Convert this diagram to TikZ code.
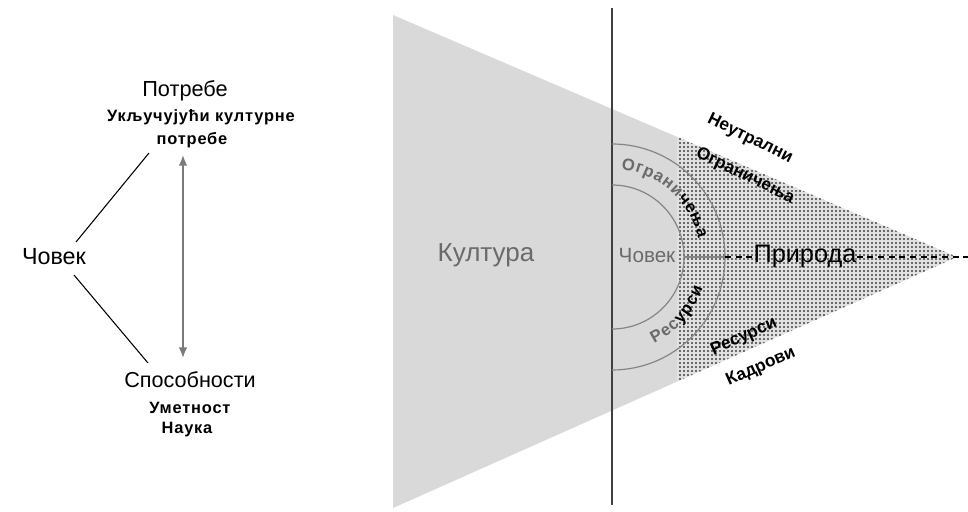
\documentclass[tikz,border=0pt]{standalone}
\usepackage{fontspec}
\setmainfont{Liberation Sans}
\usetikzlibrary{decorations.text,patterns,arrows.meta}
\definecolor{lightshade}{HTML}{D9D9D9}
\definecolor{darkbg}{HTML}{E2E2E2}
\definecolor{dotcol}{HTML}{404040}
\definecolor{txtgray}{HTML}{6A6A6A}
\definecolor{linegray}{HTML}{858585}
\definecolor{arrgray}{HTML}{7A7A7A}
\pgfdeclarepatternformonly{bigdots}{\pgfqpoint{-1.5pt}{-1.5pt}}{\pgfqpoint{1.5pt}{1.5pt}}{\pgfqpoint{3pt}{3pt}}{\pgfpathcircle{\pgfqpoint{0pt}{0pt}}{0.8pt}\pgfusepath{fill}}
\tikzset{
  fs/.style={font=\fontsize{#1}{#1}\selectfont},
  fsb/.style={font=\fontsize{#1}{#1}\selectfont\bfseries\addfontfeatures{LetterSpace=5}},
  edgelbl/.style={font=\fontsize{13}{13}\selectfont\bfseries, inner sep=1pt},
  lbl/.style={inner sep=0pt, anchor=base},
  axisline/.style={draw=black!75, line width=0.9pt},
  ring/.style={draw=linegray, line width=0.9pt},
  dashline/.style={draw=black, line width=0.8pt, dash pattern=on 4.5pt off 3.5pt},
  conn/.style={draw=black, line width=0.8pt},
  dbl/.style={draw=arrgray, line width=1.3pt, {Latex[length=8pt,width=6.5pt]}-{Latex[length=8pt,width=6.5pt]}},
}
\begin{document}
\begin{tikzpicture}[x=0.75pt,y=0.75pt]
\useasboundingbox (0,0) rectangle (968,511);
% wedge
\coordinate (TL) at (393,496);
\coordinate (BL) at (393,3);
\coordinate (AP) at (957,254);
\begin{scope}
\clip (0,0) rectangle (677,511);
\fill[lightshade] (TL) -- (AP) -- (BL) -- cycle;
\end{scope}
\begin{scope}
\clip (677,0) rectangle (968,511);
\fill[darkbg] (TL) -- (AP) -- (BL) -- cycle;
\fill[pattern=bigdots, pattern color=dotcol] (TL) -- (AP) -- (BL) -- cycle;
\end{scope}
% vertical axis
\coordinate (VT) at (612,503);
\coordinate (VB) at (612,6);
\draw[axisline] (VT) -- (VB);
% rings
\coordinate (C) at (612,254);
\draw[ring] ([shift={(C)}]90:54pt) arc[start angle=90, end angle=-90, radius=54pt];
\draw[ring] ([shift={(C)}]90:84.75pt) arc[start angle=90, end angle=-90, radius=84.75pt];
\coordinate (iE) at (684,254);
\coordinate (oE) at (725,254);
\coordinate (rE) at (968,254);
\draw[ring] (iE) -- (oE);
% texts right
\node[lbl, fs=19.5, text=txtgray] (kult) at (486,249) {Култура};
\node[lbl, fs=15.5, text=txtgray] (covi) at (647,248) {Човек};
\node[lbl, fs=19] (prir) at (805,248) {Природа};
\draw[dashline] (oE) -- (oE -| prir.west);
\draw[dashline] (rE -| prir.east) -- (rE);
% arc labels
\begin{scope}
\fontsize{12.5}{12.5}\selectfont\bfseries
\path[decorate, decoration={text along path, text align=fit to path,
  text={|\color{txtgray}|Ограни|\color{black}|чења}}]
  ([shift={(C)}]84:66pt) arc[start angle=84, end angle=12, radius=66pt];
\path[decorate, decoration={text along path, text align=fit to path,
  text={|\color{txtgray}|Рес|\color{black}|урси}}]
  ([shift={(C)}]-64:72pt) arc[start angle=-64, end angle=-19, radius=72pt];
\end{scope}
% edge labels
\node[edgelbl, rotate=-26] (neut) at (750,372) {Неутрални};
\node[edgelbl, rotate=-26] (ogr) at (745,335) {Ограничења};
\node[edgelbl, rotate=24] (res) at (744,174) {Ресурси};
\node[edgelbl, rotate=24] (kad) at (761,144) {Кадрови};
% left part
\node[lbl, fs=16.3] (potr) at (185,414) {Потребе};
\node[lbl, fsb=12.3] (ukl) at (201,389) {Укључујући културне};
\node[lbl, fsb=12.3] (potr2) at (192,366) {потребе};
\node[lbl, fs=17.5] (cov) at (54,246) {Човек};
\node[lbl, fs=16.2] (spos) at (190,123) {Способности};
\node[lbl, fsb=12.3] (umet) at (190,98) {Уметност};
\node[lbl, fsb=12.3] (nauk) at (187,78) {Наука};
\coordinate (c1) at (76,269);
\coordinate (p1) at (149,358);
\coordinate (c2) at (74,236);
\coordinate (s1) at (148,148);
\draw[conn] (c1) -- (p1);
\draw[conn] (c2) -- (s1);
\coordinate (aT) at (183,356);
\coordinate (aB) at (183,153);
\draw[dbl] (aT) -- (aB);
\end{tikzpicture}
\end{document}
